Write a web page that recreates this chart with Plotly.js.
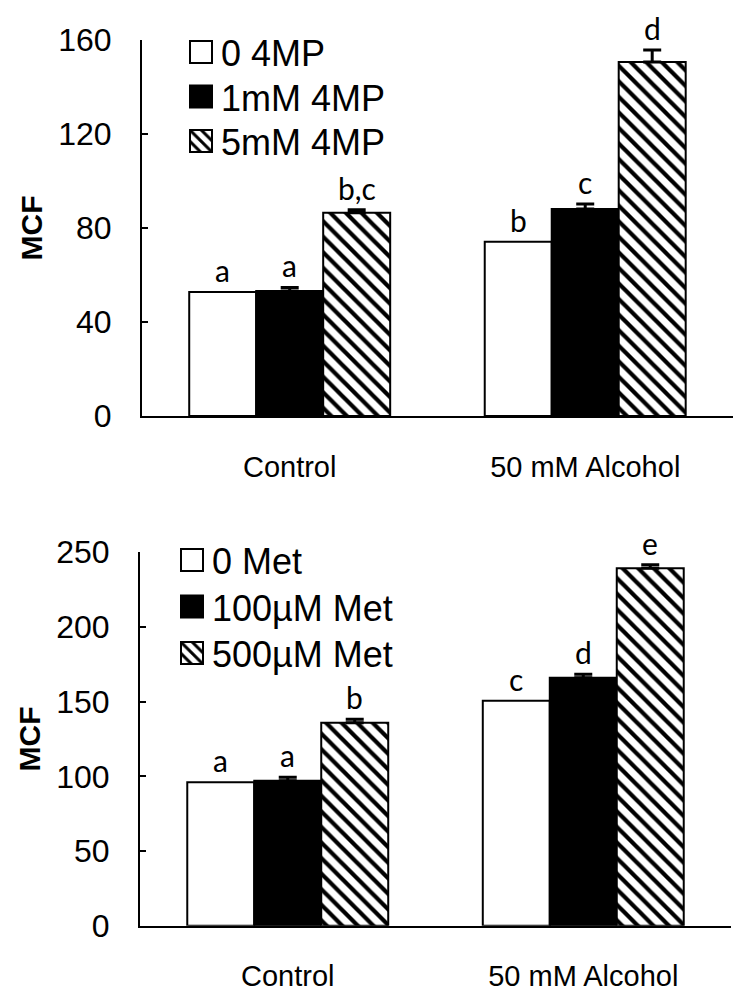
<!DOCTYPE html>
<html>
<head>
<meta charset="utf-8">
<script src="https://cdn.plot.ly/plotly-3.0.1.min.js"></script>
<style>html,body{margin:0;padding:0;background:#fff;}</style>
</head>
<body>
<div id="chart" style="width:751px;height:1008px;"></div>
<script>
// ---------- data ----------
const categories = ["Control", "50 mM Alcohol"];

// top panel: 4MP
const topNames = ["0 4MP", "1mM 4MP", "5mM 4MP"];
const mp0 = [52.8, 74.2];
const mp1 = [53.2, 88.1];
const mp5 = [86.5, 150.6];
const mp0Err = [0, 0];
const mp1Err = [1.5, 2.1];
const mp5Err = [1.3, 5.1];
const mp0Letters = ["a", "b"];
const mp1Letters = ["a", "c"];
const mp5Letters = ["b,c", "d"];

// bottom panel: Met
const botNames = ["0 Met", "100\u00b5M Met", "500\u00b5M Met"];
const met0 = [96.0, 150.6];
const met100 = [97.1, 166.0];
const met500 = [135.9, 239.3];
const met0Err = [0, 0];
const met100Err = [2.3, 2.4];
const met500Err = [2.3, 2.4];
const met0Letters = ["a", "c"];
const met100Letters = ["a", "d"];
const met500Letters = ["b", "e"];

// ---------- styling ----------
const BARGAP = 0.32;
const barW = (1 - BARGAP) / 3;
const styles = [
  {color: "#ffffff", pattern: {shape: ""}},
  {color: "#000000", pattern: {shape: ""}},
  {color: "#ffffff", pattern: {shape: "\\", fgcolor: "#000000", bgcolor: "#ffffff", size: 11, solidity: 0.38, fillmode: "replace"}}
];

function makeTrace(name, vals, errs, idx, xa, ya, legend) {
  return {
    type: "bar", name: name, x: categories, y: vals,
    xaxis: xa, yaxis: ya, legend: legend,
    marker: {color: styles[idx].color, pattern: styles[idx].pattern, line: {color: "#000", width: 2}},
    error_y: {type: "data", symmetric: false, array: errs, arrayminus: errs.map(() => 0),
              color: "#000", thickness: 3, width: 9, visible: errs.some(e => e > 0)},
    hoverinfo: "skip"
  };
}

const traces = [
  makeTrace(topNames[0], mp0, mp0Err, 0, "x", "y", "legend"),
  makeTrace(topNames[1], mp1, mp1Err, 1, "x", "y", "legend"),
  makeTrace(topNames[2], mp5, mp5Err, 2, "x", "y", "legend"),
  makeTrace(botNames[0], met0, met0Err, 0, "x2", "y2", "legend2"),
  makeTrace(botNames[1], met100, met100Err, 1, "x2", "y2", "legend2"),
  makeTrace(botNames[2], met500, met500Err, 2, "x2", "y2", "legend2")
];

const annotations = [];
function addLetters(vals, errs, letters, idx, xa, ya) {
  vals.forEach((v, i) => {
    annotations.push({
      xref: xa, yref: ya, x: i + (idx - 1) * barW, y: v + errs[i],
      text: letters[i], showarrow: false, yanchor: "bottom", yshift: 2,
      font: {family: "Lato, 'Open Sans', sans-serif", size: 30, color: "#000"}
    });
  });
}
addLetters(mp0, mp0Err, mp0Letters, 0, "x", "y");
addLetters(mp1, mp1Err, mp1Letters, 1, "x", "y");
addLetters(mp5, mp5Err, mp5Letters, 2, "x", "y");
addLetters(met0, met0Err, met0Letters, 0, "x2", "y2");
addLetters(met100, met100Err, met100Letters, 1, "x2", "y2");
addLetters(met500, met500Err, met500Letters, 2, "x2", "y2");

const FONT = "'Liberation Sans', Arial, sans-serif";
const NARROW = "'Liberation Sans Narrow', 'Arial Narrow', 'Liberation Sans', sans-serif";
function xAxis(domain, anchor) {
  return {domain: domain, anchor: anchor, type: "category", range: [-0.5, 1.5],
    showline: true, linecolor: "#000", linewidth: 2, ticks: "", showgrid: false, zeroline: false,
    tickfont: {family: FONT, size: 29, color: "#000"}, ticklabelstandoff: 24, fixedrange: true};
}
function yAxis(domain, anchor, range, dtick) {
  return {domain: domain, anchor: anchor, range: range, dtick: dtick,
    showline: true, linecolor: "#000", linewidth: 2, ticks: "inside", ticklen: 6, tickwidth: 2, tickcolor: "#000",
    showgrid: false, zeroline: false, tickfont: {family: NARROW, size: 32, color: "#000"}, ticklabelstandoff: 22,
    title: {text: "<b>MCF</b>", font: {family: FONT, size: 30, color: "#000"}, standoff: 7}, fixedrange: true};
}

const layout = {
  width: 751, height: 1008,
  margin: {l: 0, r: 0, t: 0, b: 0},
  paper_bgcolor: "#fff", plot_bgcolor: "#fff",
  barmode: "group", bargap: BARGAP, bargroupgap: 0,
  showlegend: true,
  xaxis: xAxis([0.189, 0.976], "y"),
  yaxis: yAxis([0.5873, 0.9603], "x", [0, 160], 40),
  xaxis2: xAxis([0.1864, 0.9734], "y2"),
  yaxis2: yAxis([0.0817, 0.4521], "x2", [0, 250], 50),
  legend: {x: 0.241, y: 0.978, xanchor: "left", yanchor: "top", bgcolor: "rgba(0,0,0,0)",
           font: {family: FONT, size: 36, color: "#000"}, traceorder: "normal"},
  legend2: {x: 0.229, y: 0.474, xanchor: "left", yanchor: "top", bgcolor: "rgba(0,0,0,0)",
           font: {family: FONT, size: 36, color: "#000"}, traceorder: "normal"},
  annotations: annotations
};

// row pitch of the legend entries in the reference (px)
const legendRowStep = [44.5, 46.5];

Plotly.newPlot("chart", traces, layout, {staticPlot: true, displayModeBar: false}).then(gd => {
  // enlarge legend swatches to match the reference's larger squares
  gd.querySelectorAll(".legendpoints path").forEach(p => {
    p.setAttribute("d", "M11,11H-11V-11H11Z");
  });
  // tighten legend row pitch
  const parents = [];
  gd.querySelectorAll("g.traces").forEach(t => {
    if (!parents.includes(t.parentNode)) parents.push(t.parentNode);
  });
  parents.forEach((par, li) => {
    const items = Array.from(par.querySelectorAll(":scope > g.traces"));
    const parse = t => {
      const m = /translate\(\s*([-\d.e]+)[ ,]+([-\d.e]+)/.exec(t.getAttribute("transform") || "");
      return m ? [parseFloat(m[1]), parseFloat(m[2])] : [0, 0];
    };
    const first = parse(items[0]);
    const step = legendRowStep[li] || legendRowStep[0];
    items.forEach((t, i) => {
      const p = parse(t);
      t.setAttribute("transform", "translate(" + p[0] + "," + (first[1] + i * step) + ")");
    });
  });
});
</script>
</body>
</html>
